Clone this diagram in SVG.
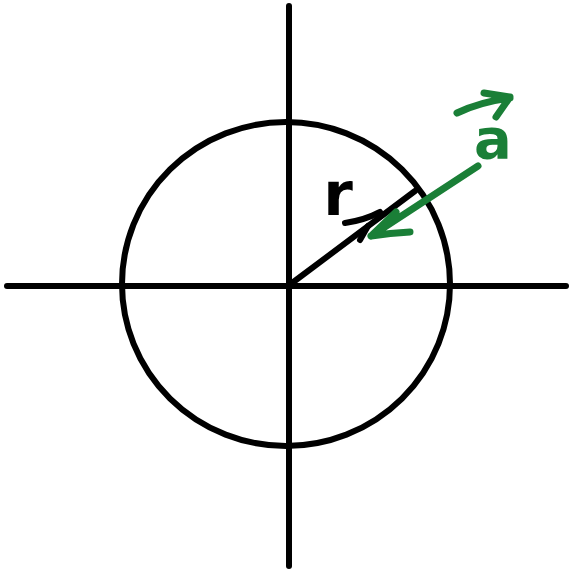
<svg xmlns="http://www.w3.org/2000/svg" width="569" height="572" viewBox="0 0 569 572">
<style>
.k{fill:none;stroke:#000;stroke-width:6;stroke-linecap:round;stroke-linejoin:round}
.g{fill:none;stroke:#1a7f37;stroke-width:7;stroke-linecap:round;stroke-linejoin:round}
.t{font-family:"DejaVu Sans","Liberation Sans",sans-serif;font-weight:bold;text-anchor:middle}
</style>
<rect width="569" height="572" fill="#fff"/>
<g id="axes">
<line class="k" x1="7" y1="286" x2="566" y2="286"/>
<line class="k" x1="289" y1="6" x2="289" y2="566"/>
</g>
<g id="circle">
<ellipse class="k" cx="286" cy="284" rx="164" ry="162"/>
</g>
<g id="connectors">
<path class="k" d="M288,286 L415,191"/>
<path class="k" d="M345,223 Q365,220 380,212 M360,240 L368,226" stroke-width="8"/>
<path class="g" d="M478,166 L371,236 M371,236 Q390,233 410,232 M371,236 L396,212"/>
<path class="g" stroke-width="8" d="M457,113 Q480,102 510,98 M484,93 L510,97 L496,117"/>
</g>
<g id="label-r">
<text class="t" x="338" y="215" font-size="60">r</text>
</g>
<g id="label-a">
<text class="t" x="493" y="158" font-size="56" fill="#1a7f37">a</text>
</g>
</svg>
